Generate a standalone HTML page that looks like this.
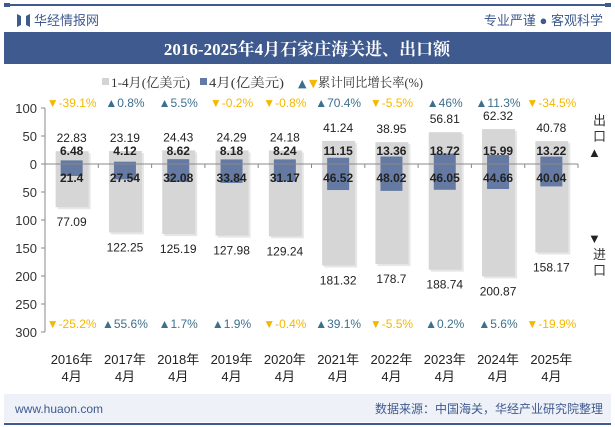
<!DOCTYPE html>
<html><head><meta charset="utf-8">
<style>
body{margin:0;width:615px;height:427px;background:#fff;overflow:hidden;font-family:"Liberation Sans","Noto Sans CJK SC",sans-serif;}
svg{display:block}
</style></head>
<body>
<svg id="chart" width="615" height="427" xmlns="http://www.w3.org/2000/svg">
  <rect x="4" y="4" width="607" height="2" fill="#3f5a8f"/>
  <rect x="4" y="3" width="6" height="4" fill="#3f5a8f"/><rect x="605" y="3" width="6" height="4" fill="#3f5a8f"/>
  <g>
    <path d="M17 14 L21 16 L21 25 L17 27 Z M26 16 L30 14 L30 27 L26 25 Z" fill="#3f5a8f"/>
    <text x="34" y="25" font-size="13" fill="#3f5a8f">华经情报网</text>
  </g>
  <text x="603" y="25" font-size="13" fill="#3f5a8f" text-anchor="end">专业严谨 ● 客观科学</text>
  <rect x="4" y="32" width="607" height="32" fill="#3f5a8f"/>
  <text x="307" y="55" font-size="17" font-weight="bold" fill="#fff" text-anchor="middle" font-family="Liberation Serif,Noto Serif CJK SC,serif">2016-2025年4月石家庄海关进、出口额</text>
  <g font-size="13" fill="#333" font-family="Liberation Serif,Noto Serif CJK SC,serif">
    <rect x="102" y="78" width="7" height="7" fill="#d4d4d4"/><text x="111" y="87" textLength="79" lengthAdjust="spacingAndGlyphs">1-4月(亿美元)</text>
    <rect x="200" y="78" width="7" height="7" fill="#647aa3"/><text x="209" y="87" textLength="75" lengthAdjust="spacingAndGlyphs">4月(亿美元)</text>
    <text x="298" y="87" fill="#3d6f8e" font-family="DejaVu Sans,sans-serif" font-size="11">▲</text><text x="309" y="87" fill="#f5b800" font-family="DejaVu Sans,sans-serif" font-size="11">▼</text><text x="318" y="87" textLength="105" lengthAdjust="spacingAndGlyphs">累计同比增长率(%)</text>
  </g>
  <g id="axes"></g>
  <g id="bars"></g>
  <g font-size="13" fill="#333">
    <text x="593" y="125">出</text><text x="593" y="141">口</text><text x="588" y="157" fill="#222">▲</text>
    <text x="588" y="243" fill="#222">▼</text><text x="593" y="259">进</text><text x="593" y="275">口</text>
  </g>
  <rect x="4" y="394" width="607" height="28" fill="#eef1f7"/>
  <rect x="4" y="423" width="607" height="2" fill="#3f5a8f"/>
  <text x="15" y="413" font-size="12" fill="#3f5a8f">www.huaon.com</text>
  <text x="603" y="413" font-size="12" fill="#3f5a8f" text-anchor="end">数据来源：中国海关，华经产业研究院整理</text>
</svg>
<script>
const categories=["2016年","2017年","2018年","2019年","2020年","2021年","2022年","2023年","2024年","2025年"];
const exportCum=[22.83,23.19,24.43,24.29,24.18,41.24,38.95,56.81,62.32,40.78];
const exportMonth=[6.48,4.12,8.62,8.18,8.24,11.15,13.36,18.72,15.99,13.22];
const importCum=[77.09,122.25,125.19,127.98,129.24,181.32,178.7,188.74,200.87,158.17];
const importMonth=[21.4,27.54,32.08,33.84,31.17,46.52,48.02,46.05,44.66,40.04];
const exportGrowth=[-39.1,0.8,5.5,-0.2,-0.8,70.4,-5.5,46,11.3,-34.5];
const importGrowth=[-25.2,55.6,1.7,1.9,-0.4,39.1,-5.5,0.2,5.6,-19.9];
const yTicks=[100,50,0,50,100,150,200,250,300];
const yTickVals=[100,50,0,-50,-100,-150,-200,-250,-300];

const NS="http://www.w3.org/2000/svg";
const x0=45,band=53.3,zeroY=164,k=0.56;
const y=v=>zeroY-v*k;
const cx=i=>x0+band*(i+0.5);
function mk(tag,attrs,parent,text){const e=document.createElementNS(NS,tag);for(const a in attrs)e.setAttribute(a,attrs[a]);if(text!==undefined)e.textContent=text;parent.appendChild(e);return e;}
const axes=document.getElementById('axes'),bars=document.getElementById('bars');
const yl=mk('line',{x1:x0,y1:y(100),x2:x0,y2:y(-300),stroke:'#888'},axes);


yTickVals.forEach((v,j)=>{
  mk('line',{x1:x0-4,y1:y(v),x2:x0,y2:y(v),stroke:'#888'},axes);
  const t=mk('text',{x:x0-8,y:y(v)+5,'font-size':13,fill:'#333','text-anchor':'end'},axes,yTicks[j]);
  
  
});
categories.forEach((c,i)=>{
  const cxi=cx(i);
  mk('rect',{x:cxi-16+2,y:y(exportCum[i])+2,width:33,height:(exportCum[i]+importCum[i])*k,fill:'#bbb',opacity:0.35},bars);
  const g=mk('rect',{x:cxi-16,y:y(exportCum[i]),width:33,height:(exportCum[i]+importCum[i])*k,fill:'#d6d6d6'},bars);
  
  
  const b=mk('rect',{x:cxi-11,y:y(exportMonth[i]),width:22,height:(exportMonth[i]+importMonth[i])*k,fill:'#647aa3'},bars);
  
  
  mk('text',{x:cxi,y:y(exportCum[i])-9,'font-size':12,fill:'#222','text-anchor':'middle'},bars,exportCum[i]);
  mk('text',{x:cxi,y:155,'font-size':12,'font-weight':'bold',fill:'#222','text-anchor':'middle'},bars,exportMonth[i]);
  mk('text',{x:cxi,y:182,'font-size':12,'font-weight':'bold',fill:'#222','text-anchor':'middle'},bars,importMonth[i]);
  mk('text',{x:cxi,y:y(-importCum[i])+19,'font-size':12,fill:'#222','text-anchor':'middle'},bars,importCum[i]);
  [[exportGrowth[i],107],[importGrowth[i],328]].forEach(([g2,yy])=>{
    const up=g2>=0,col=up?'#3d6f8e':'#f5b800';
    const t=mk('text',{x:cxi,y:yy,'font-size':12,fill:col,'text-anchor':'middle'},bars,(up?'▲':'▼')+g2+'%');
    
    
  });
  const xl=mk('text',{x:cxi,y:364,'font-size':13,fill:'#222','text-anchor':'middle'},axes,c);
  
  
  mk('text',{x:cxi,y:381,'font-size':13,fill:'#222','text-anchor':'middle'},axes,'4月');
});
const zl=mk('line',{x1:x0,y1:zeroY,x2:x0+band*10,y2:zeroY,stroke:'#888'},bars);


for(let i=1;i<=10;i++)mk('line',{x1:x0+band*i,y1:zeroY,x2:x0+band*i,y2:zeroY+4,stroke:'#888'},bars);
</script>
</body></html>
